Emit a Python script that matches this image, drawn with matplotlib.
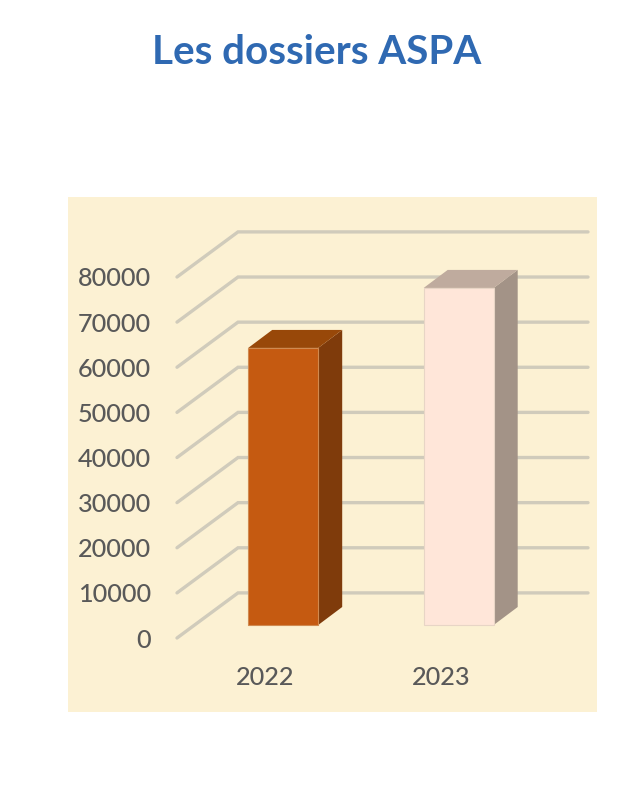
import matplotlib
matplotlib.use("Agg")
import matplotlib.pyplot as plt

categories = ["2022", "2023"]
values = [61400, 74700]
y_ticks = [0, 10000, 20000, 30000, 40000, 50000, 60000, 70000, 80000]
title = "Les dossiers ASPA"

front_colors = ["#C55A11", "#FFE6D9"]
top_colors = ["#984809", "#BFAB9E"]
side_colors = ["#7F3B0B", "#A39387"]
edge_colors = ["#D08A50", "#E8D5C6"]
PANEL = "#FCF1D3"
GRID = "#D0CBBB"
BLUE = "#2F69B2"
TEXT = "#595959"

W, H = 640, 787
PX_PER_CAT = 175.5
PX_PER_VAL = 45.125 / 10000
X0_PX, Y0_PX = 265.5, 638
L, R, T, B = 68, 597, 197, 712

fig = plt.figure(figsize=(W / 100, H / 100), dpi=100, facecolor="white")
ax = fig.add_axes([L / W, (H - B) / H, (R - L) / W, (B - T) / H])
ax.set_facecolor(PANEL)
ax.set_xlim((L - X0_PX) / PX_PER_CAT, (R - X0_PX) / PX_PER_CAT)
ax.set_ylim((Y0_PX - B) / PX_PER_VAL, (Y0_PX - T) / PX_PER_VAL)

def dx(px):
    return px / PX_PER_CAT

def dv(px):
    return px / PX_PER_VAL

# floor / wall geometry
x_front = dx(177 - X0_PX)
wall_dx, wall_dv = dx(61), dv(45.1)
x_end = dx(588 - X0_PX)

for v in y_ticks:
    ax.plot([x_front, x_front + wall_dx, x_end], [v, v + wall_dv, v + wall_dv],
            color=GRID, lw=2.4, solid_capstyle="round", solid_joinstyle="miter", zorder=1)

# bars
bar_w = dx(70)
bar_shift = dx(17.7)
bar_floor = dv(13)
depth_dx, depth_dv = dx(24), dv(18)

for i, (val, fc, tc, sc, ec) in enumerate(zip(values, front_colors, top_colors, side_colors, edge_colors)):
    x_l = i + bar_shift - bar_w / 2
    x_r = x_l + bar_w
    y_b = bar_floor
    y_t = bar_floor + val
    ax.fill([x_r, x_r + depth_dx, x_r + depth_dx, x_r],
            [y_b, y_b + depth_dv, y_t + depth_dv, y_t], color=sc, lw=0, zorder=3)
    ax.fill([x_l, x_l + depth_dx, x_r + depth_dx, x_r],
            [y_t, y_t + depth_dv, y_t + depth_dv, y_t], color=tc, lw=0, zorder=3)
    ax.bar(i + bar_shift, val, width=bar_w, bottom=y_b, color=fc, edgecolor=ec, lw=0.8, zorder=4)

for s in ["top", "right", "left", "bottom"]:
    ax.spines[s].set_visible(False)
ax.spines["left"].set_position(("data", dx(176 - X0_PX)))
ax.spines["bottom"].set_position(("data", 0))

ax.set_yticks(y_ticks)
ax.set_xticks(range(len(categories)), categories)
ax.tick_params(axis="y", length=0, pad=18, labelsize=18.2, labelcolor=TEXT)
ax.tick_params(axis="x", length=0, pad=20, labelsize=18.2, labelcolor=TEXT)
for lab in ax.get_xticklabels() + ax.get_yticklabels():
    lab.set_fontfamily("Lato")
    lab.set_fontweight("medium")

fig.text(316.5 / W, 1 - 52 / H, title, ha="center", va="center", fontsize=29.05,
         fontweight="bold", color=BLUE, family="Lato")

fig.savefig("out.png", dpi=100, facecolor="white")
